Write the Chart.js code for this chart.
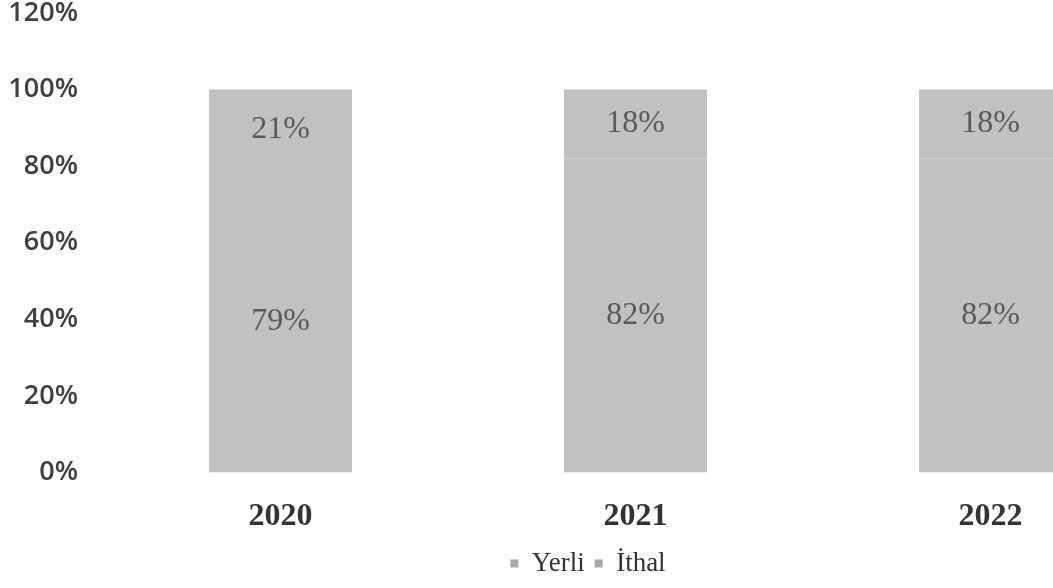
<!DOCTYPE html>
<html>
<head>
<meta charset="utf-8">
<script src="https://cdn.jsdelivr.net/npm/chart.js@4"></script>
<style>
  html, body { margin: 0; padding: 0; background: #ffffff; overflow: hidden; }
  #wrap { width: 1053px; height: 588px; overflow: hidden; }
</style>
</head>
<body>
<div id="wrap">
  <canvas id="shareChart" width="1200" height="588"></canvas>
</div>
<script>
// Chart data
const years = ['2020', '2021', '2022'];
const yerli = [79, 82, 82];
const ithal = [21, 18, 18];
const seriesNames = ['Yerli', 'İthal'];

const BAR_GRAY = '#c1c1c1';

// Draw the value labels in the middle of each segment
const segmentLabels = {
  id: 'segmentLabels',
  afterDatasetsDraw(chart) {
    const ctx = chart.ctx;
    ctx.save();
    ctx.font = '32px "Liberation Serif", serif';
    ctx.fillStyle = '#5a5a5a';
    ctx.textAlign = 'center';
    ctx.textBaseline = 'middle';
    chart.data.datasets.forEach((ds, i) => {
      const meta = chart.getDatasetMeta(i);
      meta.data.forEach((bar, j) => {
        const y = (bar.y + bar.base) / 2;
        ctx.fillText(ds.data[j] + '%', bar.x, y);
      });
    });
    ctx.restore();
  }
};

function initializeChart() {
  const ctx = document.getElementById('shareChart');
  new Chart(ctx, {
    type: 'bar',
    data: {
      labels: years,
      datasets: [
        { label: seriesNames[0], data: yerli, backgroundColor: BAR_GRAY },
        { label: seriesNames[1], data: ithal, backgroundColor: BAR_GRAY }
      ]
    },
    options: {
      responsive: false,
      animation: false,
      layout: { padding: { top: 13, left: 8, right: 32, bottom: 1 } },
      datasets: {
        bar: { categoryPercentage: 1.0, barPercentage: 0.403 }
      },
      plugins: {
        legend: {
          position: 'bottom',
          labels: {
            boxWidth: 8,
            boxHeight: 8,
            padding: 10,
            color: '#333333',
            font: { family: '"Liberation Serif", serif', size: 27 },
            generateLabels: chart => chart.data.datasets.map((ds, i) => ({
              text: ds.label,
              fillStyle: '#a9a9a9',
              strokeStyle: '#a9a9a9',
              lineWidth: 0,
              fontColor: '#333333',
              datasetIndex: i
            }))
          }
        },
        tooltip: { enabled: false },
        title: { display: false }
      },
      scales: {
        x: {
          stacked: true,
          grid: { display: false },
          border: { display: false },
          afterFit: scale => { scale.height -= 13; },
          ticks: {
            color: '#333333',
            padding: 17,
            font: { family: '"Liberation Serif", serif', size: 32, weight: 'bold' }
          }
        },
        y: {
          stacked: true,
          min: 0,
          max: 120,
          grid: { display: false },
          border: { display: false },
          afterFit: scale => {
            scale.width = 95;
            scale.paddingTop = 0;
            scale.paddingBottom = 0;
          },
          ticks: {
            stepSize: 20,
            color: '#404040',
            padding: 17,
            font: { family: '"Open Sans", sans-serif', size: 27, weight: '600' },
            callback: v => v + '%'
          }
        }
      }
    },
    plugins: [segmentLabels]
  });
}

document.addEventListener('DOMContentLoaded', initializeChart);
</script>
</body>
</html>
